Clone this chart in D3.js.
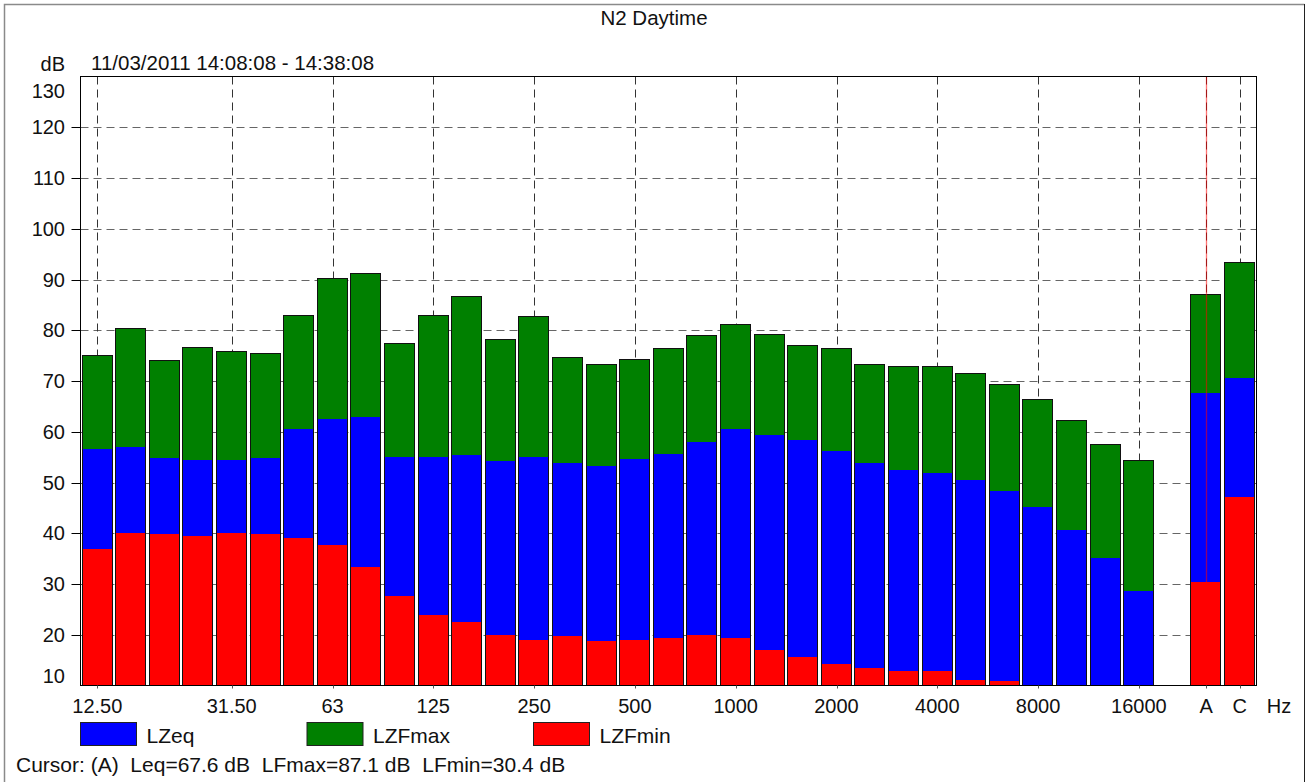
<!DOCTYPE html>
<html>
<head>
<meta charset="utf-8">
<script src="https://cdn.jsdelivr.net/npm/d3@7"></script>
<style>
  body { margin: 0; background: #fff; }
  svg { display: block; font-family: "Liberation Sans", Arial, sans-serif; }
</style>
</head>
<body>
<div id="chart"></div>
<script>
'use strict';

// 1/3 octave bands (Hz)
const BANDS = ['12.5', '16', '20', '25', '31.5', '40', '50', '63', '80', '100', '125', '160',
  '200', '250', '315', '400', '500', '630', '800', '1000', '1250', '1600', '2000', '2500',
  '3150', '4000', '5000', '6300', '8000', '10000', '12500', '16000'];
const LZFMAX = [75.1, 80.4, 74.1, 76.7, 75.9, 75.5, 83.1, 90.2, 91.3, 77.5, 83.1, 86.7,
  78.3, 82.8, 74.7, 73.3, 74.3, 76.6, 79.1, 81.3, 79.3, 77.0, 76.5, 73.4,
  73.0, 72.9, 71.5, 69.4, 66.4, 62.4, 57.5, 54.5];
const LZEQ = [56.6, 56.9, 54.9, 54.5, 54.5, 54.9, 60.5, 62.5, 62.9, 55.0, 55.0, 55.4,
  54.2, 55.0, 53.8, 53.3, 54.6, 55.7, 58.0, 60.5, 59.4, 58.4, 56.2, 53.9,
  52.5, 51.9, 50.5, 48.3, 45.2, 40.7, 35.2, 28.6];
const LZFMIN = [36.8, 40.0, 39.9, 39.5, 40.0, 39.9, 39.1, 37.7, 33.3, 27.7, 23.9, 22.6,
  19.9, 19.0, 19.8, 18.8, 19.0, 19.4, 19.9, 19.4, 17.0, 15.6, 14.3, 13.5,
  12.9, 12.9, 11.1, 10.9, 9.6, 9.3, 9.0, 8.8];

// broadband values
const OVERALL = ['A', 'C'];
const OVERALL_LZFMAX = [87.1, 93.4];
const OVERALL_LZEQ = [67.6, 70.6];
const OVERALL_LZFMIN = [30.4, 47.1];

const GRID_BANDS  = ['12.5', '31.5', '63', '125', '250', '500', '1000', '2000', '4000', '8000', '16000', 'A', 'C'];
const TICK_LABELS = ['12.50', '31.50', '63', '125', '250', '500', '1000', '2000', '4000', '8000', '16000', 'A', 'C'];
const Y_TICKS = [10, 20, 30, 40, 50, 60, 70, 80, 90, 100, 110, 120, 130];

const TITLE = 'N2 Daytime';
const PERIOD = '11/03/2011 14:08:08 - 14:38:08';
const CURSOR_BAND = 'A';

const SERIES = [
  { key: 'max', name: 'LZFmax', color: '#008000' },
  { key: 'eq',  name: 'LZeq',   color: '#0000ff' },
  { key: 'min', name: 'LZFmin', color: '#ff0000' },
];
const LEGEND_ORDER = ['eq', 'max', 'min'];

const W = 1311, H = 782;
const PLOT = { left: 80.5, top: 76.5, right: 1256.5, bottom: 685.5 };

const rows = BANDS.map((b, i) => ({ band: b, max: LZFMAX[i], eq: LZEQ[i], min: LZFMIN[i] }))
  .concat(OVERALL.map((b, i) => ({ band: b, max: OVERALL_LZFMAX[i], eq: OVERALL_LZEQ[i], min: OVERALL_LZFMIN[i] })));

const slots = [...BANDS, 'gap', ...OVERALL];

const x = d3.scaleBand()
  .domain(slots)
  .range([PLOT.left, PLOT.right])
  .paddingInner(0.07)
  .paddingOuter(0.035);
const cx = b => x(b) + x.bandwidth() / 2;

const y = d3.scaleLinear()
  .domain([10, 130])
  .range([PLOT.bottom, PLOT.top])
  .clamp(true);

const svg = d3.select('#chart').append('svg')
  .attr('width', W)
  .attr('height', H);

// outer panel frame
svg.append('path')
  .attr('d', `M4.5,${H} V4.5 H1304.5`)
  .attr('fill', 'none').attr('stroke', '#8a8a8a').attr('stroke-width', 1.5);
svg.append('line')
  .attr('x1', 1304.5).attr('x2', 1304.5).attr('y1', 4).attr('y2', H)
  .attr('stroke', '#222');

// title + period
svg.append('text')
  .attr('x', 654).attr('y', 25)
  .attr('text-anchor', 'middle')
  .attr('font-size', '20.5px').attr('fill', '#111')
  .text(TITLE);

svg.append('text')
  .attr('x', 65).attr('y', 71)
  .attr('text-anchor', 'end')
  .attr('font-size', '20px').attr('fill', '#111')
  .text('dB');

svg.append('text')
  .attr('x', 91).attr('y', 70)
  .attr('font-size', '20.5px').attr('fill', '#111')
  .text(PERIOD);

// horizontal grid
svg.append('g')
  .selectAll('line')
  .data(Y_TICKS.filter(v => v > 10 && v < 130))
  .join('line')
  .attr('x1', PLOT.left).attr('x2', PLOT.right)
  .attr('y1', d => Math.round(y(d)) + 0.5).attr('y2', d => Math.round(y(d)) + 0.5)
  .attr('stroke', '#666').attr('stroke-dasharray', '8,5');

// vertical grid
svg.append('g')
  .selectAll('line')
  .data(GRID_BANDS)
  .join('line')
  .attr('x1', d => Math.round(cx(d)) + 0.5).attr('x2', d => Math.round(cx(d)) + 0.5)
  .attr('y1', PLOT.top).attr('y2', PLOT.bottom)
  .attr('stroke', '#333').attr('stroke-dasharray', '8,5');

// bars: max, eq, min drawn over each other from the axis floor
const bars = svg.append('g').attr('shape-rendering', 'crispEdges');
SERIES.forEach(s => {
  bars.selectAll(null)
    .data(rows)
    .join('rect')
    .attr('x', d => Math.round(x(d.band)))
    .attr('width', Math.round(x.bandwidth()))
    .attr('y', d => Math.round(y(d[s.key])))
    .attr('height', d => Math.round(y(10)) - Math.round(y(d[s.key])))
    .attr('fill', s.color);
});
// bar outlines
bars.selectAll(null)
  .data(rows)
  .join('rect')
  .attr('x', d => Math.round(x(d.band)) + 0.5)
  .attr('width', Math.round(x.bandwidth()) - 1)
  .attr('y', d => Math.round(y(d3.max([d.max, d.eq, d.min]))) + 0.5)
  .attr('height', d => Math.round(y(10)) - Math.round(y(d3.max([d.max, d.eq, d.min]))) - 1)
  .attr('fill', 'none')
  .attr('stroke', '#111')
  .attr('stroke-width', 1);

// cursor line
svg.append('line')
  .attr('x1', Math.round(cx(CURSOR_BAND)) + 0.5).attr('x2', Math.round(cx(CURSOR_BAND)) + 0.5)
  .attr('y1', PLOT.top).attr('y2', PLOT.bottom)
  .attr('stroke', '#ff0000').attr('stroke-opacity', 0.55).attr('stroke-width', 1.3);

// plot frame
svg.append('rect')
  .attr('x', PLOT.left).attr('y', PLOT.top)
  .attr('width', PLOT.right - PLOT.left).attr('height', PLOT.bottom - PLOT.top)
  .attr('fill', 'none').attr('stroke', '#000');

// y ticks + labels
const yAx = svg.append('g');
yAx.selectAll('line')
  .data(Y_TICKS.filter(v => v > 10 && v < 130))
  .join('line')
  .attr('x1', PLOT.left - 9).attr('x2', PLOT.left)
  .attr('y1', d => Math.round(y(d)) + 0.5).attr('y2', d => Math.round(y(d)) + 0.5)
  .attr('stroke', '#000');
yAx.selectAll('text')
  .data(Y_TICKS)
  .join('text')
  .attr('x', 65)
  .attr('y', d => Math.min(Math.max(y(d), PLOT.top + 14), PLOT.bottom - 10))
  .attr('dy', '0.36em')
  .attr('text-anchor', 'end')
  .attr('font-size', '20px').attr('fill', '#111')
  .text(d => d);

// x ticks + labels
const xAx = svg.append('g');
xAx.selectAll('line')
  .data(GRID_BANDS)
  .join('line')
  .attr('x1', d => Math.round(cx(d)) + 0.5).attr('x2', d => Math.round(cx(d)) + 0.5)
  .attr('y1', PLOT.bottom).attr('y2', PLOT.bottom + 3)
  .attr('stroke', '#555');
xAx.selectAll('text')
  .data(GRID_BANDS)
  .join('text')
  .attr('x', d => cx(d))
  .attr('y', 713)
  .attr('text-anchor', 'middle')
  .attr('font-size', '20px').attr('fill', '#111')
  .text((d, i) => TICK_LABELS[i]);
svg.append('text')
  .attr('x', 1279).attr('y', 713)
  .attr('text-anchor', 'middle')
  .attr('font-size', '20px').attr('fill', '#111')
  .text('Hz');

// legend
const legend = svg.append('g').attr('transform', 'translate(80.5,722.5)');
LEGEND_ORDER.forEach((k, i) => {
  const s = SERIES.find(d => d.key === k);
  const row = legend.append('g').attr('transform', `translate(${i * 226.5},0)`);
  row.append('rect')
    .attr('width', 56).attr('height', 23)
    .attr('fill', s.color).attr('stroke', '#222');
  row.append('text')
    .attr('x', 66).attr('y', 20)
    .attr('font-size', '21px').attr('fill', '#111')
    .text(s.name);
});

// cursor readout
const ci = rows.findIndex(d => d.band === CURSOR_BAND);
svg.append('text')
  .attr('x', 16).attr('y', 772)
  .attr('font-size', '21px').attr('fill', '#111')
  .style('white-space', 'pre')
  .text(`Cursor: (${CURSOR_BAND})  Leq=${rows[ci].eq.toFixed(1)} dB  LFmax=${rows[ci].max.toFixed(1)} dB  LFmin=${rows[ci].min.toFixed(1)} dB`);
</script>
</body>
</html>
